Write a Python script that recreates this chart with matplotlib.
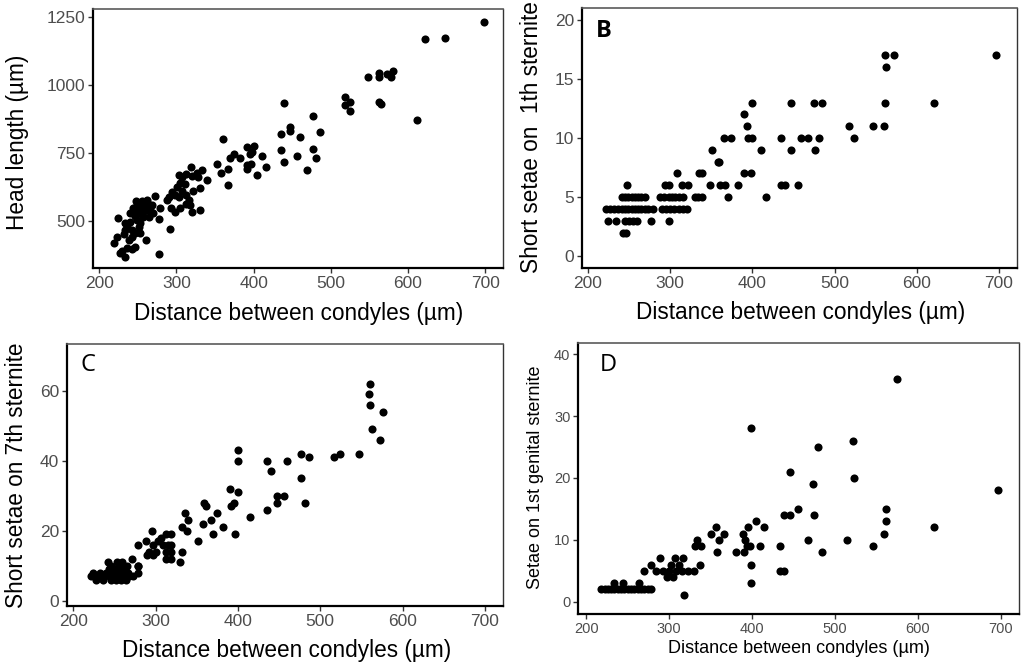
import matplotlib
matplotlib.use("Agg")
import matplotlib.pyplot as plt

plt.rcParams["font.family"] = ["Liberation Sans", "DejaVu Sans"]

XLABEL = "Distance between condyles (µm)"

# Panel A: head length vs distance between condyles
a_x = [699, 622, 648, 548, 562, 563, 573, 578, 580, 519, 519, 525, 525, 562, 565, 611,
       440, 436, 447, 447, 460, 477, 486, 436, 440, 456, 477, 481, 469,
       361, 391, 400, 398, 395, 411, 382, 375, 369, 391, 397, 392, 416, 404,
       352, 358, 367, 367, 319, 333, 327, 303, 307, 313, 320, 328, 339, 305, 311,
       301, 307, 294, 298, 290, 288, 303, 313, 316, 322, 330, 318, 313, 320, 305,
       293, 298, 330, 292, 278, 272, 279, 278, 261,
       225, 223, 219, 234, 236, 229, 242, 247, 234, 234, 240, 242, 247, 253, 251,
       244, 249, 253, 257, 262, 266, 270, 253, 257, 264, 249, 240, 244, 260, 249,
       255, 262, 268, 253, 242, 238, 227, 246, 258, 250, 236, 232, 255, 262, 248]
a_y = [1232, 1168, 1175, 1028, 1030, 1045, 1040, 1030, 1052, 958, 928, 938, 905, 936, 930, 873,
       935, 820, 847, 830, 808, 885, 826, 762, 718, 738, 766, 730, 688,
       800, 774, 776, 752, 745, 738, 732, 748, 732, 706, 710, 692, 700, 668,
       708, 676, 690, 632, 700, 688, 676, 668, 660, 672, 666, 660, 650, 638, 636,
       624, 612, 606, 594, 588, 576, 588, 594, 576, 612, 620, 558, 564, 532, 548,
       546, 532, 540, 470, 378, 592, 546, 508, 430,
       510, 440, 418, 366, 399, 391, 396, 405, 467, 491, 498, 467, 455, 455, 479,
       528, 559, 565, 571, 553, 540, 528, 528, 516, 516, 504, 528, 547, 540, 534,
       547, 571, 559, 491, 442, 430, 381, 520, 535, 548, 480, 452, 575, 578, 572]

# Panel B: short setae on 1th sternite
b_x = [561, 572, 697,
       563,
       400, 447, 475, 485, 561, 621,
       390,
       393, 517, 547, 560,
       366, 374, 395, 400, 435, 459, 468, 481, 524,
       351, 411, 447, 476,
       358, 360,
       308, 335, 339, 390, 398,
       247, 294, 299, 314, 322, 349, 361, 367, 382, 435, 440, 456,
       241, 245, 249, 253, 257, 261, 265, 269, 288, 293, 298, 302, 306, 311, 316,
       330, 334, 339, 370, 416,
       222, 227, 232, 237, 241, 245, 249, 253, 257, 261, 265, 269, 273, 279,
       290, 295, 300, 305, 311, 316, 321,
       224, 234, 245, 250, 255, 260, 277, 299,
       242, 246]
b_y = [17, 17, 17,
       16,
       13, 13, 13, 13, 13, 13,
       12,
       11, 11, 11, 11,
       10, 10, 10, 10, 10, 10, 10, 10, 10,
       9, 9, 9, 9,
       8, 8,
       7, 7, 7, 7, 7,
       6, 6, 6, 6, 6, 6, 6, 6, 6, 6, 6, 6,
       5, 5, 5, 5, 5, 5, 5, 5, 5, 5, 5, 5, 5, 5, 5,
       5, 5, 5, 5, 5,
       4, 4, 4, 4, 4, 4, 4, 4, 4, 4, 4, 4, 4, 4,
       4, 4, 4, 4, 4, 4, 4,
       3, 3, 3, 3, 3, 3, 3, 3,
       2, 2]

# Panel C: short setae on 7th sternite
c_x = [561, 559, 561, 576, 563, 572, 547, 524, 517, 486, 476, 477, 481, 460, 435, 440,
       456, 447, 447, 435, 400, 400, 400, 390, 391, 395, 397, 415, 382, 375, 367, 370,
       359, 361, 358, 352, 336, 339, 332, 338, 332, 329, 319, 313, 307, 303, 295, 297,
       301, 309, 315, 319, 313, 319, 313, 319, 292, 289, 297, 288, 279, 278, 278, 271,
       273, 279,
       222, 226, 230, 234, 238, 245, 250, 256, 262, 268,
       228, 236, 246, 252, 258, 264,
       224, 232, 240, 248, 254, 260, 266,
       243, 250, 257, 263,
       246, 255, 261, 265,
       242, 253, 259]
c_y = [62, 59, 56, 54, 49, 46, 42, 42, 41, 41, 42, 35, 28, 40, 40, 37,
       30, 30, 28, 26, 43, 40, 31, 32, 27, 28, 19, 24, 21, 25, 23, 19,
       28, 27, 22, 17, 25, 23, 21, 20, 14, 11, 19, 19, 18, 17, 20, 16,
       14, 16, 16, 16, 14, 14, 12, 12, 14, 13, 13, 17, 16, 10, 8, 12,
       7, 10,
       7, 7, 7, 7, 7, 7, 7, 7, 7, 7,
       6, 6, 6, 6, 6, 6,
       8, 8, 8, 8, 8, 8, 8,
       9, 9, 9, 9,
       10, 10, 10, 10,
       11, 11, 11]

# Panel D: setae on 1st genital sternite
d_x = [575, 399, 522, 480, 523, 446, 474, 697, 455, 561, 561, 559, 438, 446, 475, 620,
       405, 395, 414, 357, 351, 366, 389, 360, 392, 467, 515, 334,
       331, 338, 394, 398, 410, 434, 546, 381, 390, 358, 484,
       270, 278, 337, 399, 289, 307, 317, 302, 312,
       284, 292, 300, 308, 316, 323, 330, 297, 304, 434, 439, 399, 318,
       233, 244, 263,
       218, 222, 226, 230, 234, 238, 242, 246, 250, 254, 258, 262, 266, 270, 274, 278]
d_y = [36, 28, 26, 25, 20, 21, 19, 18, 15, 15, 13, 11, 14, 14, 14, 12,
       13, 12, 12, 12, 11, 11, 11, 10, 10, 10, 10, 10,
       9, 9, 9, 9, 9, 9, 9, 8, 8, 8, 8,
       5, 6, 6, 6, 7, 7, 7, 6, 6,
       5, 5, 5, 5, 5, 5, 5, 4, 4, 5, 5, 3, 1,
       3, 3, 3,
       2, 2, 2, 2, 2, 2, 2, 2, 2, 2, 2, 2, 2, 2, 2, 2]

x_ticks = [200, 300, 400, 500, 600, 700]


def style_axes(ax, tick_size, label_size):
    for side in ["left", "bottom"]:
        ax.spines[side].set_linewidth(1.6)
        ax.spines[side].set_color("black")
    ax.spines["top"].set_color("#5a5a5a")
    ax.spines["top"].set_linewidth(1.2)
    ax.spines["right"].set_color("#333333")
    ax.spines["right"].set_linewidth(1.0)
    ax.tick_params(direction="out", length=3.5, width=1.0, color="#333333",
                   labelcolor="#4d4d4d", labelsize=tick_size, pad=2)
    ax.set_xticks(x_ticks)
    ax.set_xlabel(XLABEL, fontsize=label_size, va="center")


fig = plt.figure(figsize=(10.21, 6.64), dpi=100)
W, H = 1021, 664


def add_axes(left, right, top, bottom):
    return fig.add_axes([left / W, 1 - bottom / H, (right - left) / W, (bottom - top) / H])


ax_a = add_axes(93, 503, 9, 268)
ax_b = add_axes(582, 1017, 8, 268)
ax_c = add_axes(67, 503, 344, 606)
ax_d = add_axes(578, 1019, 343, 614)

dot = dict(s=34, color="black", linewidths=0)

ax_a.scatter(a_x, a_y, **dot)
style_axes(ax_a, 12.5, 16.3)
ax_a.set_xlim(192, 723)
ax_a.set_ylim(327, 1280)
ax_a.set_yticks([500, 750, 1000, 1250])
ax_a.set_ylabel("Head length (µm)", fontsize=16.3, va="center")
ax_a.yaxis.set_label_coords(-0.185, 0.485)
ax_a.xaxis.set_label_coords(0.502, -0.174)

ax_b.scatter(b_x, b_y, **dot)
style_axes(ax_b, 12.5, 16.3)
ax_b.set_xlim(192.7, 722)
ax_b.set_ylim(-1, 21)
ax_b.set_yticks([0, 5, 10, 15, 20])
ax_b.set_ylabel("Short setae on  1th sternite", fontsize=16.3, va="center")
ax_b.yaxis.set_label_coords(-0.115, 0.504)
ax_b.xaxis.set_label_coords(0.503, -0.173)
ax_b.text(0.031, 0.913, "B", transform=ax_b.transAxes, fontsize=17,
          family="Open Sans", fontweight="bold", va="center", ha="left")

ax_c.scatter(c_x, c_y, **dot)
style_axes(ax_c, 12.5, 16.3)
ax_c.set_xlim(192.3, 722)
ax_c.set_ylim(-1.5, 73.4)
ax_c.set_yticks([0, 20, 40, 60])
ax_c.set_ylabel("Short setae on 7th sternite", fontsize=16.3, va="center")
ax_c.yaxis.set_label_coords(-0.115, 0.5)
ax_c.xaxis.set_label_coords(0.504, -0.168)
ax_c.text(0.03, 0.92, "C", transform=ax_c.transAxes, fontsize=17,
          family="Open Sans", va="center", ha="left")

ax_d.scatter(d_x, d_y, **dot)
style_axes(ax_d, 10.5, 13)
ax_d.set_xlim(190, 722)
ax_d.set_ylim(-2, 41.8)
ax_d.set_yticks([0, 10, 20, 30, 40])
ax_d.set_ylabel("Setae on 1st genital sternite", fontsize=13, va="center")
ax_d.yaxis.set_label_coords(-0.097, 0.505)
ax_d.xaxis.set_label_coords(0.502, -0.129)
ax_d.text(0.05, 0.918, "D", transform=ax_d.transAxes, fontsize=17,
          family="Open Sans", va="center", ha="left")

fig.savefig("out.png", dpi=100)
